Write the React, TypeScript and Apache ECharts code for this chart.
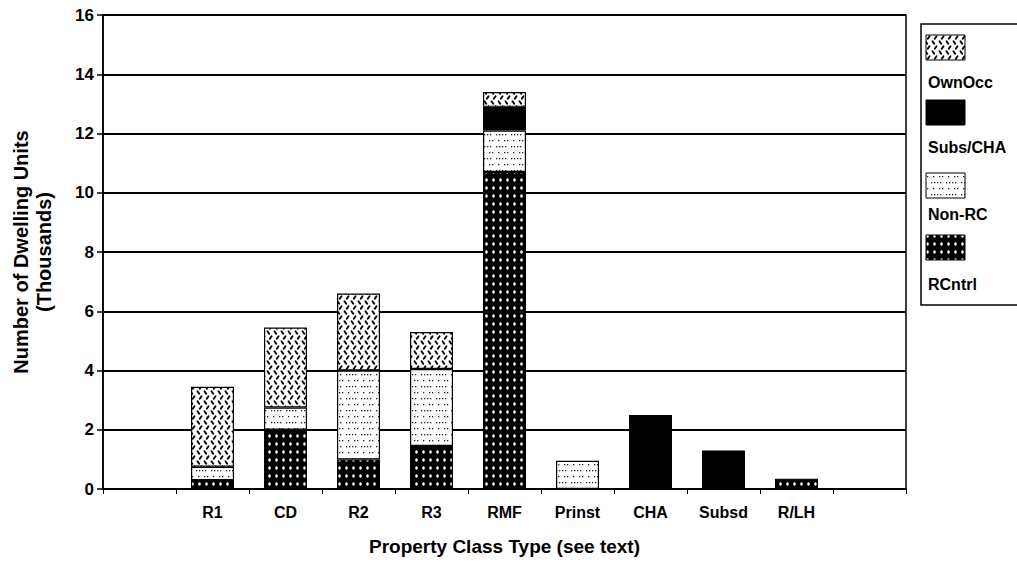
import React, { useEffect, useRef } from "react";
import * as echarts from "echarts";

const categories = ["", "R1", "CD", "R2", "R3", "RMF", "Prinst", "CHA", "Subsd", "R/LH", ""];
const rcntrl = [null, 0.3, 2.0, 1.0, 1.45, 10.7, null, null, null, 0.35, null];
const nonRC = [null, 0.45, 0.75, 3.0, 2.6, 1.4, 0.95, null, null, null, null];
const subsCHA = [null, null, null, null, null, 0.8, null, 2.5, 1.3, null, null];
const ownOcc = [null, 2.7, 2.7, 2.6, 1.25, 0.5, null, null, null, null, null];
const legendNames = ["OwnOcc", "Subs/CHA", "Non-RC", "RCntrl"];

const FONT = "'Liberation Sans', Arial, sans-serif";

function makeCanvas(w: number, h: number, draw: (ctx: CanvasRenderingContext2D) => void) {
  const c = document.createElement("canvas");
  c.width = w;
  c.height = h;
  const ctx = c.getContext("2d")!;
  draw(ctx);
  return c;
}

export default function App() {
  const ref = useRef<HTMLDivElement>(null);
  useEffect(() => {
    if (!ref.current) return;
    const chart = echarts.init(ref.current, undefined, { renderer: "svg" });

    const dotCanvas = makeCanvas(7, 8, (ctx) => {
      ctx.fillStyle = "#000";
      ctx.fillRect(0, 0, 7, 8);
      ctx.fillStyle = "#fff";
      ctx.beginPath();
      ctx.ellipse(3.5, 4, 1.3, 1.8, 0, 0, Math.PI * 2);
      ctx.fill();
    });
    const sparseCanvas = makeCanvas(15, 12, (ctx) => {
      ctx.fillStyle = "#fff";
      ctx.fillRect(0, 0, 15, 12);
      ctx.fillStyle = "#222";
      [1, 4, 7, 10].forEach((x) => ctx.fillRect(x, 2, 1.3, 1.3));
      [3, 9, 12].forEach((x) => ctx.fillRect(x, 8, 1.3, 1.3));
    });
    const hatchCanvas = makeCanvas(7, 10, (ctx) => {
      ctx.fillStyle = "#fff";
      ctx.fillRect(0, 0, 7, 10);
      ctx.strokeStyle = "#000";
      ctx.lineWidth = 1.9;
      ctx.lineCap = "round";
      ctx.beginPath();
      ctx.moveTo(1.5, 1.2);
      ctx.lineTo(3.2, 3.8);
      ctx.moveTo(5.5, 6.2);
      ctx.lineTo(3.8, 8.8);
      ctx.stroke();
    });
    const dotPat: any = { image: dotCanvas, repeat: "repeat", imageWidth: 7, imageHeight: 8 };
    const sparsePat: any = { image: sparseCanvas, repeat: "repeat", imageWidth: 15, imageHeight: 12 };
    const hatchPat: any = { image: hatchCanvas, repeat: "repeat", imageWidth: 7, imageHeight: 10 };

    const fills = [hatchPat, "#000", sparsePat, dotPat];
    const swatchTops = [35, 100, 173, 235];
    const labelYs = [82, 147, 214, 284];

    const legendGraphics: any[] = [
      {
        type: "rect",
        shape: { x: 921, y: 24, width: 120, height: 281 },
        style: { fill: "#fff", stroke: "#000", lineWidth: 1.5 },
      },
    ];
    legendNames.forEach((n, i) => {
      legendGraphics.push({
        type: "rect",
        shape: { x: 926, y: swatchTops[i], width: 39, height: 25 },
        style: { fill: fills[i], stroke: "#000", lineWidth: 1 },
      });
      legendGraphics.push({
        type: "text",
        x: 928,
        y: labelYs[i],
        style: {
          text: n,
          fill: "#000",
          font: `bold 16px ${FONT}`,
          verticalAlign: "middle",
        },
      });
    });

    const mk = (name: string, data: any[], color: any) => ({
      name,
      type: "bar",
      stack: "all",
      data,
      barWidth: 43,
      itemStyle: { color, borderColor: "#000", borderWidth: 1.2 },
    });

    chart.setOption({
      animation: false,
      backgroundColor: "#fff",
      grid: {
        left: 103,
        right: 111,
        top: 15,
        bottom: 74,
        show: true,
        borderColor: "#000",
        borderWidth: 1.5,
        backgroundColor: "transparent",
        containLabel: false,
        outerBoundsMode: "none",
      },
      xAxis: {
        type: "category",
        data: categories,
        name: "Property Class Type (see text)",
        nameLocation: "middle",
        nameGap: 48,
        nameTextStyle: { fontFamily: FONT, fontWeight: "bold", fontSize: 19, color: "#000" },
        axisLine: { lineStyle: { color: "#000", width: 2 } },
        axisTick: { show: true, length: 5, lineStyle: { color: "#000" } },
        axisLabel: { interval: 0, fontFamily: FONT, fontWeight: "bold", fontSize: 16, color: "#000", margin: 15 },
      },
      yAxis: {
        type: "value",
        min: 0,
        max: 16,
        interval: 2,
        name: "Number of Dwelling Units\n(Thousands)",
        nameLocation: "middle",
        nameRotate: 90,
        nameGap: 48,
        nameTextStyle: { fontFamily: FONT, fontWeight: "bold", fontSize: 20, color: "#000", lineHeight: 23 },
        axisLine: { show: true, lineStyle: { color: "#000", width: 1.5 } },
        axisTick: { show: true, length: 6, lineStyle: { color: "#000", width: 1.5 } },
        axisLabel: { fontFamily: FONT, fontWeight: "bold", fontSize: 17, color: "#000", margin: 9 },
        splitLine: { lineStyle: { color: "#000", width: 2 } },
      },
      series: [
        mk("RCntrl", rcntrl, dotPat),
        mk("Non-RC", nonRC, sparsePat),
        mk("Subs/CHA", subsCHA, "#000"),
        mk("OwnOcc", ownOcc, hatchPat),
      ],
      graphic: legendGraphics,
    });
    return () => chart.dispose();
  }, []);
  return <div ref={ref} style={{ width: 1017, height: 563, position: "absolute", left: 0, top: 0 }} />;
}
